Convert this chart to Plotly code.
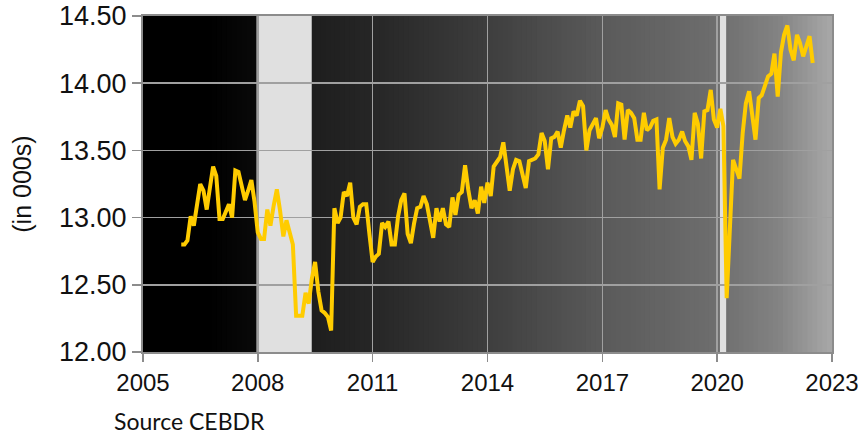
import plotly.graph_objects as go
import pandas as pd
import numpy as np

# Monthly values (in 000s), Jan 2006 onward
vals_2006 = [12.80, 12.80, 12.83, 13.01, 12.94, 13.09, 13.25, 13.20, 13.06, 13.22, 13.38, 13.31]
vals_2007 = [12.99, 12.99, 13.04, 13.10, 13.00, 13.35, 13.34, 13.22, 13.13, 13.20, 13.28, 13.12]
vals_2008 = [12.89, 12.84, 12.84, 13.06, 12.94, 13.09, 13.21, 13.05, 12.86, 12.98, 12.90, 12.80]
vals_2009 = [12.27, 12.27, 12.27, 12.44, 12.36, 12.55, 12.67, 12.45, 12.31, 12.29, 12.26, 12.16]
vals_2010 = [13.07, 12.96, 13.00, 13.19, 13.16, 13.26, 13.00, 12.95, 13.08, 13.10, 13.10, 12.88]
vals_2011 = [12.67, 12.71, 12.73, 12.96, 12.93, 12.97, 12.80, 12.80, 13.01, 13.13, 13.18, 12.88]
vals_2012 = [12.81, 12.96, 13.07, 13.08, 13.16, 13.10, 12.96, 12.85, 13.07, 12.97, 13.07, 12.95]
vals_2013 = [12.93, 13.15, 13.02, 13.17, 13.19, 13.39, 13.21, 13.07, 13.13, 13.03, 13.23, 13.11]
vals_2014 = [13.26, 13.16, 13.38, 13.41, 13.45, 13.56, 13.38, 13.20, 13.36, 13.43, 13.42, 13.33]
vals_2015 = [13.22, 13.42, 13.43, 13.44, 13.47, 13.63, 13.57, 13.36, 13.59, 13.60, 13.64, 13.52]
vals_2016 = [13.65, 13.76, 13.67, 13.79, 13.76, 13.87, 13.83, 13.50, 13.65, 13.69, 13.74, 13.59]
vals_2017 = [13.67, 13.80, 13.73, 13.69, 13.60, 13.85, 13.84, 13.58, 13.80, 13.78, 13.74, 13.58]
vals_2018 = [13.58, 13.78, 13.65, 13.67, 13.72, 13.73, 13.21, 13.52, 13.58, 13.74, 13.60, 13.55]
vals_2019 = [13.58, 13.64, 13.57, 13.53, 13.43, 13.78, 13.70, 13.44, 13.79, 13.80, 13.95, 13.73]
vals_2020 = [13.67, 13.81, 13.68, 12.40, 12.93, 13.43, 13.36, 13.29, 13.63, 13.85, 13.94, 13.75]
vals_2021 = [13.58, 13.89, 13.91, 13.98, 14.05, 14.07, 14.22, 13.90, 14.23, 14.36, 14.43, 14.25]
vals_2022 = [14.17, 14.36, 14.30, 14.20, 14.27, 14.35, 14.15]

values = (vals_2006 + vals_2007 + vals_2008 + vals_2009 + vals_2010 + vals_2011 +
          vals_2012 + vals_2013 + vals_2014 + vals_2015 + vals_2016 + vals_2017 +
          vals_2018 + vals_2019 + vals_2020 + vals_2021 + vals_2022)
months = pd.date_range("2006-01-01", periods=len(values), freq="MS")

y_ticks = [12.0, 12.5, 13.0, 13.5, 14.0, 14.5]
x_tick_years = [2005, 2008, 2011, 2014, 2017, 2020, 2023]
recessions = [("2007-12-20", "2009-05-30"), ("2020-01-28", "2020-03-27")]

fig = go.Figure()
fig.add_trace(go.Scatter(x=months, y=values, mode="lines",
                         line=dict(color="#FFCC00", width=4), showlegend=False))

shapes = []
# horizontal gradient background (black -> grey)
stops_f = [0, 0.10, 0.167, 0.245, 0.333, 0.5, 0.667, 0.833, 0.92, 1.0]
stops_g = [0, 0, 10, 30, 38, 62, 90, 110, 130, 168]
N = 140
for i in range(N):
    f0 = i / N
    f1 = (i + 1) / N + 0.002
    g = int(round(np.interp((i + 0.5) / N, stops_f, stops_g)))
    shapes.append(dict(type="rect", xref="x domain", yref="y domain",
                       x0=f0, x1=min(f1, 1.0), y0=0, y1=1, layer="below",
                       fillcolor=f"rgb({g},{g},{g})", line=dict(width=0)))
for a, b in recessions:
    shapes.append(dict(type="rect", xref="x", yref="y domain", x0=a, x1=b,
                       y0=0, y1=1, layer="below", fillcolor="#e0e0e0",
                       line=dict(width=0)))

fig.update_layout(
    template="none",
    width=866, height=434,
    margin=dict(l=143, r=34, t=16, b=82, autoexpand=False),
    paper_bgcolor="white", plot_bgcolor="black",
    shapes=shapes,
    showlegend=False,
    font=dict(family="Liberation Sans, Arial, sans-serif", color="#111111"),
    annotations=[
        dict(text="(in 000s)", xref="paper", yref="paper", x=-0.176, y=0.5,
             xanchor="center", yanchor="middle", textangle=-90, showarrow=False,
             font=dict(size=25, family="Liberation Sans, Arial, sans-serif", color="#111111")),
        dict(text="Source CEBDR", xref="paper", yref="paper", x=-0.045, y=-0.205,
             xanchor="left", yanchor="middle", showarrow=False,
             font=dict(size=23, family="Lato, Open Sans, sans-serif", color="#111111")),
    ],
)
fig.update_xaxes(
    automargin=False,
    range=["2005-01-01", "2023-01-01"],
    tickvals=[f"{y}-01-01" for y in x_tick_years],
    ticktext=[str(y) for y in x_tick_years],
    ticklabeloverflow="allow",
    showgrid=True, gridcolor="#a0a0a0", gridwidth=1.5,
    showline=True, linecolor="#8c8c8c", linewidth=2, mirror=True,
    ticks="outside", ticklen=8, tickcolor="#8c8c8c", tickwidth=1.5,
    tickfont=dict(size=24, family="Liberation Sans Narrow, Arial Narrow, Liberation Sans, sans-serif", color="#111111"),
    zeroline=False,
)
fig.update_yaxes(
    automargin=False,
    range=[12.0, 14.5],
    tickvals=y_ticks,
    tickformat=".2f",
    ticklabeloverflow="allow",
    showgrid=True, gridcolor="#a0a0a0", gridwidth=1.5,
    showline=True, linecolor="#8c8c8c", linewidth=2, mirror=True,
    ticks="outside", ticklen=9, tickcolor="#8c8c8c", tickwidth=1.5,
    tickfont=dict(size=27, color="#111111"),
    zeroline=False,
)

fig.write_html("out.html",
               config={"displayModeBar": False, "staticPlot": True},
               post_script="document.body.style.margin='0px';document.body.style.overflow='hidden';")
